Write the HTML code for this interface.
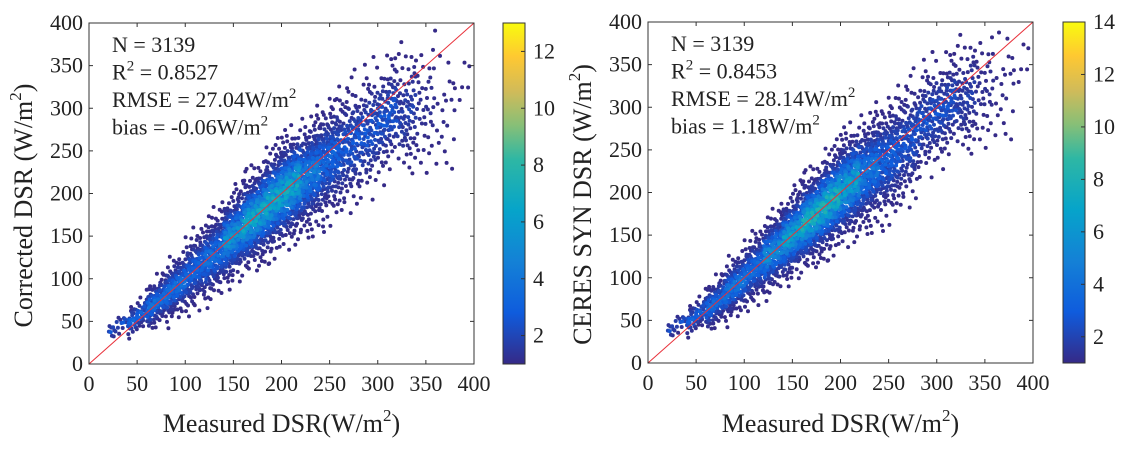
<!DOCTYPE html>
<html><head><meta charset="utf-8"><style>
html,body{margin:0;padding:0;background:#fff;}
svg{display:block;}
svg text{font-family:"Liberation Serif","Times New Roman",serif;}
</style></head>
<body>
<svg id="chart" width="1126" height="449" viewBox="0 0 1126 449" xmlns="http://www.w3.org/2000/svg" font-family="Liberation Serif, serif">
<defs>
<linearGradient id="parula" x1="0" y1="1" x2="0" y2="0">
<stop offset="0" stop-color="#352A87"/><stop offset="0.15" stop-color="#0F5CDD"/>
<stop offset="0.3" stop-color="#1481D6"/><stop offset="0.45" stop-color="#06A4CA"/>
<stop offset="0.6" stop-color="#2EB7A4"/><stop offset="0.7" stop-color="#87BF77"/>
<stop offset="0.8" stop-color="#D1BB59"/><stop offset="0.9" stop-color="#FEC832"/>
<stop offset="1" stop-color="#F9FB0E"/>
</linearGradient>
</defs>
</svg>
<script>
// ---- data (binned along measured DSR) ----
const axisTicks = [0,50,100,150,200,250,300,350,400];
const measBins = [30,50,70,90,110,130,150,170,190,210,230,250,270,290,310,330,350,370,390];
const meanLeft = [45,55,72,90,110,128,150,170,190,208,222,240,255,270,290,295,300,290,330];
const sdLeft = [6,9,13,16,20,22,23,25,27,28,29,31,33,33,30,34,38,40,20];
const countLeft = [20,60,120,150,160,200,260,300,320,300,260,200,140,110,110,80,40,20,6];
const densLeft = [2.5,3,3.5,3.5,3,3.5,5,6,6,6,4,3,2.5,2.5,2.5,1.8,1.3,1.1,1];
const meanRight = [45,55,70,90,110,130,150,170,190,210,225,240,258,285,300,310,320,320,350];
const sdRight = [6,9,13,16,18,20,22,24,26,28,29,31,32,29,27,31,34,38,20];
const countRight = [20,60,120,150,170,210,270,310,320,290,250,190,140,110,110,80,40,20,6];
const densRight = [2.5,3,3.5,4,3.5,5,6,7,7,6,4,3,2.5,2.5,2.5,1.8,1.3,1.1,1];
const cbTicksLeft = [2,4,6,8,10,12];
const cbTicksRight = [2,4,6,8,10,12,14];
const statsLeft = ["N = 3139","R","2"," = 0.8527","RMSE = 27.04W/m","2","bias = -0.06W/m","2"];
const statsRight = ["N = 3139","R","2"," = 0.8453","RMSE = 28.14W/m","2","bias = 1.18W/m","2"];

const NS="http://www.w3.org/2000/svg";
const svg=document.getElementById('chart');
const FF='"Liberation Serif", serif';
function mk(tag,attrs,parent){const e=document.createElementNS(NS,tag);for(const k in attrs)e.setAttribute(k,attrs[k]);if(tag==='text')e.setAttribute('font-family',FF);(parent||svg).appendChild(e);return e;}
const stops=[[0,[53,42,135]],[0.15,[15,92,221]],[0.3,[20,129,214]],[0.45,[6,164,202]],[0.6,[46,183,164]],[0.7,[135,191,119]],[0.8,[209,187,89]],[0.9,[254,200,50]],[1,[249,251,14]]];
function parula(t){t=Math.max(0,Math.min(1,t));for(let i=1;i<stops.length;i++){if(t<=stops[i][0]){const a=stops[i-1],b=stops[i];const f=(t-a[0])/(b[0]-a[0]);const c=a[1].map((v,j)=>Math.round(v+(b[1][j]-v)*f));return `rgb(${c})`;}}return 'rgb(249,251,14)';}
function frac(v){return v-Math.floor(v);}
function vdc(n,b){let q=0,bk=1/b;while(n>0){q+=(n%b)*bk;n=Math.floor(n/b);bk/=b;}return q;}
function invNorm(p){p=Math.min(0.995,Math.max(0.005,p));const a=Math.sqrt(-2*Math.log(p<0.5?p:1-p));const z=a-(2.515517+0.802853*a+0.010328*a*a)/(1+1.432788*a+0.189269*a*a+0.001308*a*a*a);return p<0.5?-z:z;}

function panel(opt){
  const g=mk('g',{});
  
  
  const L=opt.x0,R=opt.x1,T=opt.y0,B=opt.y1;
  const sx=v=>L+(v/400)*(R-L), sy=v=>B-(v/400)*(B-T);
  const pts=[];
  for(let i=0;i<measBins.length;i++){
    for(let k=0;k<opt.count[i];k++){
      const n=k+1+i*977;
      const u=frac(vdc(n,2)+i*0.31);
      const z=invNorm(frac(vdc(n,3)+i*0.17));
      const mx=measBins[i]-10+u*20;
      const my=opt.mean[i]+(mx-measBins[i])*0.9+opt.sd[i]*z;
      if(mx<0||mx>400||my<0||my>400)continue;
      const w=frac(vdc(n,5)+i*0.23);
      const d=1+(opt.dens[i]-1)*Math.exp(-z*z*1.0)*(0.4+0.9*w);
      pts.push([mx,my,d]);
    }
  }
  pts.sort((a,b)=>a[2]-b[2]);
  const pg=mk('g',{},g);
  
  
  for(const p of pts){
    const c=mk('circle',{cx:sx(p[0]).toFixed(1),cy:sy(p[1]).toFixed(1),r:2.0,fill:parula((p[2]-opt.cmin)/(opt.cmax-opt.cmin))},pg);
    
    
  }
  const ln=mk('line',{x1:sx(0),y1:sy(0),x2:sx(400),y2:sy(400),stroke:'#e8303a','stroke-width':1},g);
  
  
  const box=mk('rect',{x:L,y:T,width:R-L,height:B-T,fill:'none',stroke:'#333','stroke-width':1},g);
  
  
  for(const t of axisTicks){
    mk('line',{x1:sx(t),y1:B,x2:sx(t),y2:B-4,stroke:'#333'},g);
    mk('line',{x1:sx(t),y1:T,x2:sx(t),y2:T+4,stroke:'#333'},g);
    mk('line',{x1:L,y1:sy(t),x2:L+4,y2:sy(t),stroke:'#333'},g);
    mk('line',{x1:R,y1:sy(t),x2:R-4,y2:sy(t),stroke:'#333'},g);
    const xl=mk('text',{x:sx(t),y:B+27,'font-size':22,'text-anchor':'middle',fill:'#222'},g);xl.textContent=t;
    
    
    const yl=mk('text',{x:L-6,y:sy(t)+7,'font-size':22,'text-anchor':'end',fill:'#222'},g);yl.textContent=t;
    
    
  }
  const xt=mk('text',{x:(L+R)/2,y:432,'font-size':26,'text-anchor':'middle',fill:'#222'},g);
  xt.innerHTML='Measured DSR(W/m<tspan dy="-11" font-size="17">2</tspan><tspan dy="11">)</tspan>';
  
  
  const yt=mk('text',{x:0,y:0,'font-size':26,'text-anchor':'middle',fill:'#222',transform:`translate(${L-57},${(T+B)/2+12}) rotate(-90)`},g);
  yt.innerHTML=opt.ylabel+' (W/m<tspan dy="-11" font-size="17">2</tspan><tspan dy="11">)</tspan>';
  
  
  const st=opt.stats;
  const lines=[st[0],`${st[1]}<tspan dy="-9" font-size="15">${st[2]}</tspan><tspan dy="9">${st[3]}</tspan>`,`${st[4]}<tspan dy="-9" font-size="15">${st[5]}</tspan>`,`${st[6]}<tspan dy="-9" font-size="15">${st[7]}</tspan>`];
  lines.forEach((s,i)=>{const t=mk('text',{x:L+23,y:T+29+i*27.5,'font-size':22,fill:'#222'},g);t.innerHTML=s;
    
    });
  const cb=mk('rect',{x:opt.cbx,y:T,width:22,height:B-T,fill:'url(#parula)',stroke:'#333','stroke-width':1},g);
  
  
  const cy=v=>B-(v-opt.cmin)/(opt.cmax-opt.cmin)*(B-T);
  for(const t of opt.cbTicks){
    mk('line',{x1:opt.cbx+22,y1:cy(t),x2:opt.cbx+18,y2:cy(t),stroke:'#333'},g);
    const tl=mk('text',{x:opt.cbx+30,y:cy(t)+7,'font-size':22,fill:'#222'},g);tl.textContent=t;
    
    
  }
}
panel({name:'left-panel',x0:89,x1:474,y0:23,y1:364,mean:meanLeft,sd:sdLeft,count:countLeft,dens:densLeft,cmin:1,cmax:13,cbx:503,cbTicks:cbTicksLeft,ylabel:'Corrected DSR',stats:statsLeft});
panel({name:'right-panel',x0:648,x1:1033,y0:22,y1:363,mean:meanRight,sd:sdRight,count:countRight,dens:densRight,cmin:1,cmax:14,cbx:1063,cbTicks:cbTicksRight,ylabel:'CERES SYN DSR',stats:statsRight});
</script>
</body></html>
